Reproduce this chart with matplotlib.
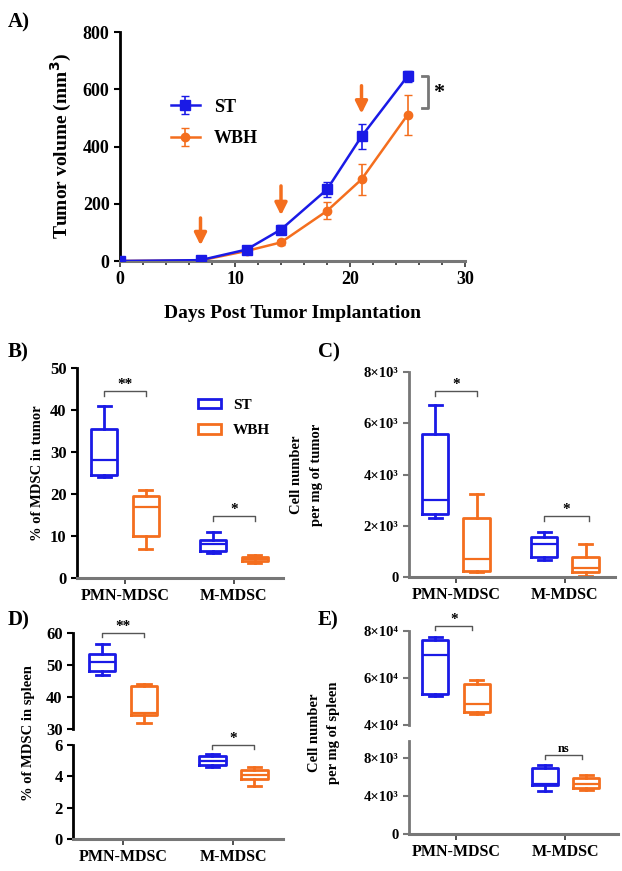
import matplotlib
matplotlib.use("Agg")
import matplotlib.pyplot as plt
from matplotlib.patches import Patch

plt.rcParams['font.family'] = ['Liberation Serif', 'DejaVu Serif']
plt.rcParams['font.weight'] = 'bold'
plt.rcParams['axes.labelweight'] = 'bold'

BLUE = '#1a1ae6'
ORANGE = '#f46e1e'
GRAY = '#777777'

# ---- Panel A: tumor growth ----
days = [0, 7, 11, 14, 18, 21, 25]
st_vol = [0, 3, 40, 110, 250, 435, 645]
st_err = [0, 2, 8, 15, 25, 45, 20]
wbh_vol = [0, 2, 35, 65, 175, 285, 510]
wbh_err = [0, 2, 6, 10, 30, 55, 70]
arrow_days = [7, 14, 21]
arrow_top = [160, 272, 622]
arrow_tip = [45, 150, 505]

# ---- box plot data: (min, q1, median, q3, max) ----
groups = ['PMN-MDSC', 'M-MDSC']
# B) % of MDSC in tumor
b_st = [(24, 24.5, 28, 35.5, 41), (6, 6.5, 8, 9, 11)]
b_wbh = [(7, 10, 17, 19.5, 21), (3.5, 4, 4.5, 5, 5.5)]
# C) cells per mg tumor
c_st = [(2300, 2450, 3000, 5600, 6700), (650, 800, 1300, 1550, 1750)]
c_wbh = [(200, 250, 700, 2300, 3250), (50, 200, 350, 800, 1300)]
# D) % of MDSC in spleen
d_st = [(47, 48, 51, 53.5, 56.5), (4.6, 4.7, 5.0, 5.3, 5.4)]
d_wbh = [(32, 34.5, 35, 43.5, 44), (3.4, 3.8, 4.1, 4.4, 4.6)]
# E) cells per mg spleen
e_st = [(52500, 53000, 70000, 76000, 77500), (4500, 5200, 5250, 7000, 7300)]
e_wbh = [(44500, 45500, 49000, 57500, 59000), (4600, 4800, 5300, 5900, 6200)]

W, H = 622, 871
fig = plt.figure(figsize=(W / 100, H / 100), dpi=100)


def ax_px(left, top, right, bottom):
    return fig.add_axes([left / W, 1 - bottom / H, (right - left) / W, (bottom - top) / H])


def style_axes(ax, spine_color, bottom=True, lw=2.0, ysize=12):
    ax.spines['top'].set_visible(False)
    ax.spines['right'].set_visible(False)
    ax.spines['left'].set_color(spine_color)
    ax.spines['left'].set_linewidth(lw)
    if bottom:
        ax.spines['bottom'].set_color(GRAY)
        ax.spines['bottom'].set_linewidth(2.2)
    else:
        ax.spines['bottom'].set_visible(False)
        ax.tick_params(axis='x', bottom=False, labelbottom=False)
    ax.tick_params(axis='y', color=spine_color, width=1.5, length=4, labelsize=ysize)
    ax.tick_params(axis='x', color='#333333', width=1.2, length=4, labelsize=11.5)


def to_stats(vals):
    lo, q1, med, q3, hi = vals
    return dict(whislo=lo, q1=q1, med=med, q3=q3, whishi=hi)


def boxes(ax, st, wbh, idx):
    for data, col, off in [(st, BLUE, -0.19), (wbh, ORANGE, 0.19)]:
        pos = [i + 1 + off for i in idx]
        ax.bxp([to_stats(data[i]) for i in idx], positions=pos, widths=0.24,
               showfliers=False, capwidths=0.12,
               boxprops=dict(color=col, lw=2),
               whiskerprops=dict(color=col, lw=2),
               capprops=dict(color=col, lw=2),
               medianprops=dict(color=col, lw=1.6))


def bracket(ax, x1, x2, y, h, label, fs=11):
    ax.plot([x1, x1, x2, x2], [y - h, y, y, y - h], color='#555555', lw=1, clip_on=False)
    ax.text((x1 + x2) / 2, y, label, ha='center', va='bottom', fontsize=fs, clip_on=False)


# ---------------- Panel A ----------------
axA = ax_px(120, 32, 465, 261)
axA.errorbar(days, st_vol, yerr=st_err, color=BLUE, marker='s', ms=7, lw=1.8,
             capsize=3, elinewidth=1.2, label='ST', zorder=3)
axA.errorbar(days, wbh_vol, yerr=wbh_err, color=ORANGE, marker='o', ms=6, lw=1.8,
             capsize=3, elinewidth=1.2, label='WBH', zorder=2)
for d, y0, y1 in zip(arrow_days, arrow_top, arrow_tip):
    axA.annotate('', xy=(d, y1), xytext=(d, y0),
                 arrowprops=dict(arrowstyle='-|>', color=ORANGE, lw=2.5, mutation_scale=18))
axA.set_xlim(0, 30)
axA.set_ylim(0, 800)
axA.set_xticks([0, 10, 20, 30])
axA.set_xticks(range(0, 31, 2), minor=True)
axA.set_yticks([0, 200, 400, 600, 800])
style_axes(axA, 'black')
axA.tick_params(axis='x', which='minor', length=3, width=1.2, color='#333333')
axA.tick_params(axis='both', labelsize=13)
axA.set_xlabel('Days Post Tumor Implantation', fontsize=14, labelpad=12)
axA.set_ylabel('Tumor volume (mm$^3$)', fontsize=14, labelpad=6)
axA.legend(loc='upper left', bbox_to_anchor=(0.1, 0.78), frameon=False, fontsize=13,
           handlelength=1.6, labelspacing=0.8)
# significance bracket at day 25
bx = 26.8
axA.plot([bx - 0.5, bx, bx, bx - 0.5], [st_vol[-1], st_vol[-1], wbh_vol[-1] + 25, wbh_vol[-1] + 25],
         color=GRAY, lw=2, clip_on=False)
axA.text(bx + 0.4, (st_vol[-1] + wbh_vol[-1]) / 2 + 10, '*', fontsize=16, va='center', clip_on=False)
fig.text(8 / W, 1 - 22 / H, 'A)', fontsize=15, va='center')

# ---------------- Panel B ----------------
axB = ax_px(77, 368, 283, 578)
boxes(axB, b_st, b_wbh, [0, 1])
axB.set_xlim(0.56, 2.45)
axB.set_ylim(0, 50)
axB.set_yticks([0, 10, 20, 30, 40, 50])
axB.set_xticks([1, 2])
axB.set_xticklabels(groups)
style_axes(axB, 'black')
axB.set_ylabel('% of MDSC in tumor', fontsize=10.5)
bracket(axB, 0.81, 1.19, 44.5, 1.2, '**')
bracket(axB, 1.81, 2.19, 14.8, 1.2, '*')
axB.legend(handles=[Patch(facecolor='white', edgecolor=BLUE, lw=2, label='ST'),
                    Patch(facecolor='white', edgecolor=ORANGE, lw=2, label='WBH')],
           loc='upper left', bbox_to_anchor=(0.52, 0.92), frameon=False, fontsize=11,
           handlelength=1.5, handleheight=0.6, labelspacing=0.8)
fig.text(8 / W, 1 - 352 / H, 'B)', fontsize=15, va='center')

# ---------------- Panel C ----------------
axC = ax_px(409, 372, 615, 577)
boxes(axC, c_st, c_wbh, [0, 1])
axC.set_xlim(0.57, 2.46)
axC.set_ylim(0, 8000)
axC.set_yticks([0, 2000, 4000, 6000, 8000])
axC.set_yticklabels(['0', '2×10³', '4×10³', '6×10³', '8×10³'])
axC.set_xticks([1, 2])
axC.set_xticklabels(groups)
style_axes(axC, GRAY, ysize=10.5)
axC.set_ylabel('Cell number\nper mg of tumor', fontsize=10.5, linespacing=1.7)
axC.yaxis.set_label_coords(-86 / 206, 0.5)
bracket(axC, 0.81, 1.19, 7260, 200, '*')
bracket(axC, 1.81, 2.22, 2380, 200, '*')
fig.text(318 / W, 1 - 352 / H, 'C)', fontsize=15, va='center')

# ---------------- Panel D (broken axis) ----------------
axDt = ax_px(73, 633, 283, 729)
axDb = ax_px(73, 745, 283, 839)
boxes(axDt, d_st, d_wbh, [0])
boxes(axDb, d_st, d_wbh, [1])
for ax in (axDt, axDb):
    ax.set_xlim(0.545, 2.45)
axDt.set_ylim(30, 60)
axDt.set_yticks([30, 40, 50, 60])
axDb.set_ylim(0, 6)
axDb.set_yticks([0, 2, 4, 6])
axDb.set_xticks([1, 2])
axDb.set_xticklabels(groups)
style_axes(axDt, 'black', bottom=False)
style_axes(axDb, 'black')
bracket(axDt, 0.81, 1.19, 60, 1.2, '**')
bracket(axDb, 1.81, 2.19, 6.0, 0.25, '*')
fig.text(29 / W, 1 - 733 / H, '% of MDSC in spleen', fontsize=10.5, rotation=90,
         ha='center', va='center')
fig.text(8 / W, 1 - 620 / H, 'D)', fontsize=15, va='center')

# ---------------- Panel E (broken axis) ----------------
axEt = ax_px(409, 631, 618, 725)
axEb = ax_px(409, 741, 618, 834)
boxes(axEt, e_st, e_wbh, [0])
boxes(axEb, e_st, e_wbh, [1])
for ax in (axEt, axEb):
    ax.set_xlim(0.57, 2.48)
axEt.set_ylim(40000, 80000)
axEt.set_yticks([40000, 60000, 80000])
axEt.set_yticklabels(['4×10⁴', '6×10⁴', '8×10⁴'])
axEb.set_ylim(0, 9800)
axEb.set_yticks([0, 4000, 8000])
axEb.set_yticklabels(['0', '4×10³', '8×10³'])
axEb.set_xticks([1, 2])
axEb.set_xticklabels(groups)
style_axes(axEt, GRAY, bottom=False, ysize=10.5)
style_axes(axEb, GRAY, ysize=10.5)
axEt.spines['left'].set_bounds(40000, 80000)
bracket(axEt, 0.81, 1.15, 82000, 1500, '*')
bracket(axEb, 1.81, 2.15, 8300, 400, 'ns', fs=9)
fig.text(324 / W, 1 - 733 / H, 'Cell number\nper mg of spleen', fontsize=10.5, rotation=90,
         ha='center', va='center', multialignment='center', linespacing=1.7)
fig.text(318 / W, 1 - 620 / H, 'E)', fontsize=15, va='center')

fig.savefig('out.png', dpi=100)
